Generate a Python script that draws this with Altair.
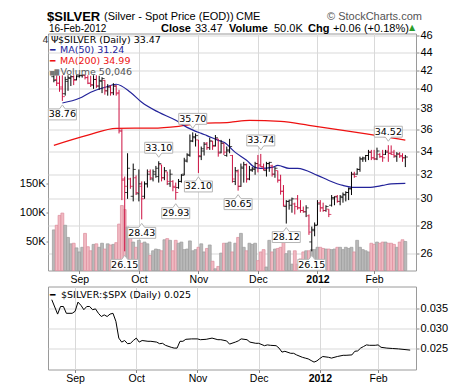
import altair as alt
import pandas as pd

# ---------------- data ----------------
opens = [41.3, 41.0, 40.6, 40.2, 39.5, 40.8, 41.1, 41.3, 41.0, 41.3,
         41.4, 41.45, 41.2, 40.6, 40.4, 41.0, 40.3, 40.8, 40.9, 39.8,
         40.2, 39.6, 40.3, 39.6, 35.8, 31.6, 30.5, 31.6, 30.2, 31.7,
         30.4, 31.0, 30.2, 31.2, 32.2, 31.6, 32.0, 31.8, 32.8, 31.7,
         32.2, 31.2, 31.4, 30.9, 30.9, 31.4, 32.0, 33.1, 33.6, 34.9,
         35.2, 35.0, 33.5, 34.0, 34.7, 34.3, 34.9, 34.5, 35.1, 33.9,
         34.7, 33.6, 34.0, 33.6, 31.4, 32.2, 31.0, 32.5, 32.8, 31.6,
         32.3, 32.4, 32.9, 32.8, 32.6, 32.3, 32.9, 32.7, 32.0, 32.3,
         31.5, 30.6, 29.4, 29.8, 29.5, 29.6, 30.0, 29.3, 29.1, 29.0,
         28.7, 26.8, 27.6, 28.0, 29.7, 29.3, 29.1, 29.2, 29.5, 30.0,
         30.2, 29.8, 30.1, 30.3, 30.5, 30.8, 32.0, 32.0, 32.4, 33.3,
         33.3, 33.6, 33.9, 33.4, 33.3, 33.7, 33.5, 33.7, 34.0, 33.8,
         33.9, 33.5, 33.7, 33.6, 33.4]
highs = [41.45, 41.45, 41.4, 41.45, 41.3, 41.45, 41.45, 41.45, 41.45, 41.5,
         41.5, 41.5, 41.45, 41.4, 41.45, 41.45, 41.4, 41.24, 40.95, 40.5,
         40.4, 40.6, 40.4, 39.9, 36.0, 31.8, 33.8, 31.7, 32.9, 31.9,
         32.4, 31.4, 31.4, 32.4, 32.4, 32.4, 32.7, 33.10, 32.8, 32.6,
         32.2, 32.4, 31.5, 31.3, 31.6, 32.0, 33.4, 33.8, 35.5, 35.70,
         35.6, 35.0, 34.4, 34.8, 34.8, 35.2, 34.9, 35.45, 35.1, 35.0,
         34.7, 34.4, 35.1, 33.65, 32.6, 32.4, 32.9, 33.05, 32.9, 32.7,
         32.6, 33.05, 33.65, 33.74, 32.9, 33.05, 33.05, 32.8, 32.6, 32.3,
         31.95, 31.1, 29.9, 29.93, 30.1, 29.7, 30.3, 29.9, 29.4, 29.5,
         28.8, 27.9, 28.2, 29.9, 29.9, 29.7, 29.5, 29.2, 30.3, 30.2,
         30.3, 30.3, 30.5, 30.6, 30.9, 32.2, 32.2, 32.5, 33.5, 33.5,
         33.65, 34.1, 34.1, 34.1, 34.3, 33.8, 34.1, 34.1, 34.52, 34.5,
         34.1, 33.9, 33.9, 33.8, 33.65]
lows = [40.7, 40.3, 39.7, 38.76, 39.3, 39.8, 40.3, 40.4, 40.9, 41.2,
        41.2, 41.0, 40.5, 40.2, 40.0, 40.1, 39.9, 39.56, 39.4, 39.3,
        39.3, 39.35, 39.3, 35.6, 29.9, 26.15, 30.0, 30.8, 29.8, 30.3,
        29.8, 28.43, 30.0, 30.9, 31.5, 31.4, 31.7, 31.3, 31.4, 31.5,
        31.1, 30.95, 30.6, 29.93, 30.8, 31.3, 31.9, 33.0, 33.5, 34.8,
        34.4, 32.10, 33.2, 33.6, 34.1, 34.1, 34.1, 34.4, 33.5, 33.8,
        33.65, 33.5, 33.8, 31.3, 31.1, 30.65, 30.95, 31.3, 31.3, 31.5,
        32.2, 31.95, 32.15, 32.6, 32.3, 31.8, 32.2, 31.8, 31.7, 31.3,
        30.33, 29.4, 28.12, 29.16, 28.93, 28.8, 29.16, 28.93, 28.93, 28.6,
        27.3, 26.15, 27.2, 28.0, 29.0, 29.0, 29.0, 28.6, 29.4, 29.5,
        29.7, 29.5, 29.7, 29.8, 29.9, 30.3, 31.7, 31.95, 32.2, 33.05,
        33.05, 33.2, 33.2, 33.2, 33.2, 33.4, 33.05, 33.65, 33.05, 33.65,
        33.4, 33.05, 33.4, 33.05, 32.6]
closes = [40.9, 40.6, 40.0, 39.2, 41.0, 41.2, 41.3, 40.9, 41.4, 41.45,
          41.48, 41.2, 40.6, 40.45, 41.0, 40.3, 40.9, 41.1, 39.8, 40.2,
          39.6, 40.3, 39.5, 35.9, 31.5, 31.0, 32.5, 31.0, 32.4, 30.5,
          31.2, 30.0, 31.2, 32.0, 31.7, 32.2, 32.5, 32.9, 31.7, 32.3,
          31.4, 32.0, 31.0, 30.5, 31.4, 31.9, 33.2, 33.7, 34.9, 35.3,
          35.4, 33.6, 34.2, 34.6, 34.3, 34.9, 34.4, 35.2, 33.8, 34.7,
          33.9, 34.1, 34.4, 31.6, 32.3, 31.0, 32.6, 32.8, 31.6, 32.4,
          32.5, 32.9, 32.7, 32.65, 32.4, 32.9, 33.0, 32.0, 32.5, 31.5,
          30.6, 29.5, 29.8, 29.9, 30.0, 29.4, 29.3, 29.1, 29.0, 29.3,
          27.5, 27.7, 28.0, 29.6, 29.3, 29.1, 29.4, 28.8, 30.1, 30.15,
          29.8, 30.2, 30.35, 30.5, 30.8, 32.0, 31.8, 32.4, 33.3, 33.4,
          33.6, 33.9, 33.4, 33.3, 34.0, 33.5, 33.4, 33.9, 33.8, 33.7,
          33.6, 33.75, 33.5, 33.41, 33.47]
volume_k = [70, 78, 95, 99, 78, 57, 46, 47, 39, 32,
            40, 64, 41, 34, 45, 46, 40, 47, 37, 46,
            44, 45, 48, 80, 112, 105, 75, 63, 49, 40,
            52, 47, 49, 46, 26, 34, 37, 36, 34, 53,
            55, 52, 34, 52, 47, 49, 36, 37, 51, 34,
            36, 40, 46, 32, 38, 44, 16, 3, 7, 30,
            47, 47, 49, 32, 47, 57, 64, 40, 34, 47,
            45, 47, 17, 32, 36, 6, 52, 32, 37, 38,
            40, 53, 29, 34, 11, 34, 11, 20, 32, 34,
            34, 36, 36, 40, 40, 38, 37, 37, 36, 37,
            40, 40, 36, 40, 38, 40, 32, 52, 40, 36,
            34, 32, 47, 45, 49, 47, 49, 49, 47, 47,
            45, 40, 49, 53, 50]

ma50_day = [3, 9, 13, 18, 22, 27, 31, 37, 43, 47, 52, 54, 58, 60, 64, 68, 71, 73,
            77, 79, 83, 86, 93, 97, 102, 106, 111, 116, 119, 124]
ma50_val = [38.55, 39.03, 39.65, 40.17, 40.49, 39.65, 38.62, 37.62, 36.84, 36.17,
            35.6, 35.4, 34.96, 34.78, 33.88, 33.18, 32.57, 32.49, 32.57, 32.74,
            32.49, 32.49, 31.90, 31.48, 31.07, 30.91, 30.91, 31.07, 31.2, 31.24]
ma200_day = [0, 12, 22, 35, 44, 52, 62, 69, 80, 90, 102, 113, 124]
ma200_val = [34.51, 35.44, 36.08, 36.1, 36.27, 36.55, 36.65, 36.84, 36.74, 36.36,
             35.89, 35.44, 34.99]

ratio_day = [1, 3, 4, 5, 6, 8, 9, 10, 11, 12, 13, 14, 15, 16, 17, 18, 19, 20, 21, 22,
             23, 24, 25, 26, 27, 28, 29, 30, 31, 32, 34, 35, 37, 38, 39, 40, 42, 43, 44, 45,
             46, 47, 49, 51, 52, 54, 56, 58, 59, 61, 62, 64, 65, 66, 68, 69, 71, 72, 74, 75,
             76, 78, 79, 80, 81, 83, 84, 85, 87, 88, 89, 90, 91, 92, 93, 94, 96, 97, 99, 101,
             102, 104, 105, 106, 107, 108, 109, 110, 112, 113, 114, 116, 118, 120, 124]
ratio_val = [0.0372, 0.0336, 0.0355, 0.0355, 0.0338, 0.0338, 0.0343, 0.0366, 0.0358, 0.0347,
             0.0355, 0.0355, 0.0347, 0.0349, 0.0338, 0.0330, 0.0334, 0.0330, 0.0336, 0.0338,
             0.0318, 0.0276, 0.0266, 0.0270, 0.0262, 0.0263, 0.0270, 0.0276, 0.0266, 0.0270,
             0.0268, 0.0268, 0.0266, 0.0262, 0.0263, 0.0258, 0.0253, 0.0251, 0.0251, 0.0268,
             0.0268, 0.0273, 0.0274, 0.0274, 0.0272, 0.0273, 0.0276, 0.0272, 0.0272, 0.0269,
             0.0261, 0.0266, 0.0269, 0.0274, 0.0272, 0.0266, 0.0263, 0.0263, 0.0257, 0.0259,
             0.0258, 0.0257, 0.0251, 0.0241, 0.0243, 0.0238, 0.0238, 0.0234, 0.0228, 0.0226,
             0.0224, 0.0220, 0.0216, 0.0219, 0.0225, 0.0230, 0.0228, 0.0226, 0.0230, 0.0233,
             0.0233, 0.0234, 0.0243, 0.0244, 0.0251, 0.0255, 0.0259, 0.0258, 0.0258, 0.0259,
             0.0253, 0.0251, 0.0250, 0.0249, 0.0246]

ann_day = [3, 25, 31, 37, 43, 49, 51, 65, 73, 82, 91, 118]
ann_price = [38.76, 26.15, 28.43, 33.10, 29.93, 35.70, 32.10, 30.65, 33.74, 28.12, 26.15, 34.52]
ann_side = ["below", "below", "below", "above", "below", "above", "below", "below",
            "above", "below", "below", "above"]

month_day = [9, 30, 51, 72, 93, 113]
month_label = ["Sep", "Oct", "Nov", "Dec", "2012", "Feb"]
price_ticks = [26, 28, 30, 32, 34, 36, 38, 40, 42, 44, 46]
vol_ticks = [50000, 100000, 150000]
ratio_ticks = [0.025, 0.030, 0.035]

# ---------------- tables ----------------
n = len(closes)
direction = ["up"] + ["up" if closes[k] > closes[k - 1] else "down" for k in range(1, n)]
bars = pd.DataFrame({
    "day": list(range(n)), "open": opens, "high": highs, "low": lows, "close": closes,
    "volume": [v * 1000 for v in volume_k], "dir": direction,
})
ma50 = pd.DataFrame({"day": ma50_day, "value": ma50_val})
ma200 = pd.DataFrame({"day": ma200_day, "value": ma200_val})
ratio = pd.DataFrame({"day": ratio_day, "value": ratio_val})
ann = pd.DataFrame({"day": ann_day, "price": ann_price, "side": ann_side,
                    "label": [f"{p:.2f}" for p in ann_price]})

# ---------------- style ----------------
RED = "#cc1040"
BLUE = "#23239a"
MA200C = "#ee1111"
GRID = "#d9d9d9"
AX_FONT = "Liberation Sans"
LEG_FONT = "DejaVu Sans"
W, H1, H2 = 368, 237, 83

xs = alt.Scale(domain=[-0.3, 126.0], nice=False, zero=False)
ps = alt.Scale(type="log", domain=[24.87, 46.24], nice=False, zero=False)
vs = alt.Scale(domain=[0, 408600], nice=False, zero=True)
rs = alt.Scale(domain=[0.01975, 0.0405], nice=False, zero=False)

label_expr = " : ".join(f"datum.value == {d} ? '{l}'" for d, l in zip(month_day, month_label)) + " : ''"
bold_expr = "datum.value == %d ? 'bold' : 'normal'" % month_day[month_label.index("2012")]

x_axis = alt.Axis(values=month_day, labelExpr=label_expr, grid=True, gridColor=GRID,
                  domain=False, ticks=True, tickSize=3, tickColor="#888",
                  labelFont=AX_FONT, labelFontSize=10.5, labelColor="#000",
                  labelPadding=1, title=None, labelFontWeight={"expr": bold_expr})
price_axis = alt.Axis(orient="right", values=price_ticks, format="d", grid=True,
                      gridColor=GRID, domain=False, tickSize=3, tickColor="#888",
                      labelPadding=1, labelFont=AX_FONT, labelFontSize=11,
                      labelColor="#000", title=None)
vol_axis = alt.Axis(orient="left", values=vol_ticks, labelExpr="(datum.value/1000) + 'K'",
                    grid=False, domain=False, tickSize=2, tickColor="#888", labelPadding=1,
                    labelFont=AX_FONT, labelFontSize=11, labelColor="#000", title=None)
ratio_axis = alt.Axis(orient="right", values=ratio_ticks, format=".3f", grid=True,
                      gridColor=GRID, domain=False, tickSize=3, tickColor="#888",
                      labelPadding=1, labelFont=AX_FONT, labelFontSize=11,
                      labelColor="#000", title=None)


def X():
    return alt.X("day:Q", scale=xs, axis=x_axis)


def PY(field):
    return alt.Y(f"{field}:Q", scale=ps, axis=price_axis)


up_black = alt.condition("datum.dir == 'up'", alt.value("#000000"), alt.value(RED))


def txt(s, x, y, size=11, weight="normal", color="#000", font=AX_FONT, align="left"):
    return alt.Chart(pd.DataFrame({"t": [s]})).mark_text(
        align=align, baseline="middle", fontSize=size, fontWeight=weight,
        color=color, font=font).encode(x=alt.value(x), y=alt.value(y), text="t:N")


# ---------------- top panel ----------------
volume = alt.Chart(bars).mark_bar(size=2.9, strokeWidth=0.7).encode(
    x=X(),
    y=alt.Y("volume:Q", scale=vs, axis=vol_axis),
    fill=alt.condition("datum.dir == 'up'", alt.value("#b9b9b9"), alt.value("#f1b9c2")),
    stroke=alt.condition("datum.dir == 'up'", alt.value("#9c9c9c"), alt.value("#dc8d9c")),
)

hl = alt.Chart(bars).mark_rule(strokeWidth=1).encode(x=X(), y=PY("low"), y2="high:Q", color=up_black)
op = alt.Chart(bars).mark_tick(orient="horizontal", size=2.5, thickness=1, xOffset=-1.3).encode(
    x=X(), y=PY("open"), color=up_black)
cl = alt.Chart(bars).mark_tick(orient="horizontal", size=2.5, thickness=1, xOffset=1.3).encode(
    x=X(), y=PY("close"), color=up_black)
l200 = alt.Chart(ma200).mark_line(color=MA200C, strokeWidth=1.2, interpolate="monotone").encode(
    x=X(), y=PY("value"))
l50 = alt.Chart(ma50).mark_line(color=BLUE, strokeWidth=1.2, interpolate="monotone").encode(
    x=X(), y=PY("value"))

PATH_BELOW = "M-1,-0.39L-0.21,-0.39L0,-0.68L0.21,-0.39L1,-0.39L1,0.39L-1,0.39Z"
PATH_ABOVE = "M-1,-0.39L1,-0.39L1,0.39L0.21,0.39L0,0.68L-0.21,0.39L-1,0.39Z"

box_b = alt.Chart(ann).transform_filter("datum.side == 'below'").mark_point(
    shape=PATH_BELOW, size=784, filled=True, color="white", stroke="#b5b5b5",
    strokeWidth=1, opacity=1, yOffset=13.5).encode(x=X(), y=PY("price"))
box_a = alt.Chart(ann).transform_filter("datum.side == 'above'").mark_point(
    shape=PATH_ABOVE, size=784, filled=True, color="white", stroke="#b5b5b5",
    strokeWidth=1, opacity=1, yOffset=-13.5).encode(x=X(), y=PY("price"))
txt_b = alt.Chart(ann).transform_filter("datum.side == 'below'").mark_text(
    font=LEG_FONT, fontSize=9.5, color="#000", dy=13.5, baseline="middle").encode(
    x=X(), y=PY("price"), text="label:N")
txt_a = alt.Chart(ann).transform_filter("datum.side == 'above'").mark_text(
    font=LEG_FONT, fontSize=9.5, color="#000", dy=-13.5, baseline="middle").encode(
    x=X(), y=PY("price"), text="label:N")

price_group = alt.layer(l200, l50, hl, op, cl, box_b, box_a, txt_b, txt_a)

L1, L2 = -17, -5
header = [
    txt("$SILVER", -1, L1, size=13, weight="bold"),
    txt("(Silver - Spot Price (EOD))", 56, L1, size=11),
    txt("CME", 188, L1, size=11),
    txt("\u00a9 StockCharts.com", 279, L1, size=11, color="#555"),
    txt("16-Feb-2012", 1, L2, size=10),
    txt("Close", 113, L2, weight="bold"),
    txt("33.47", 147, L2),
    txt("Volume", 181, L2, weight="bold"),
    txt("50.0K", 226, L2),
    txt("Chg", 260, L2, weight="bold"),
    txt("+0.06 (+0.18%)", 285, L2),
    txt("\u25b2", 361, L2 - 0.5, size=8, color="#2a9d2a", font=LEG_FONT),
    txt("4", -5.5, 6, size=9.5, color="#333", font=LEG_FONT),
    txt("\u03a8", 3, 6, size=9.5, color="#000", font=LEG_FONT),
    txt("$SILVER (Daily) 33.47", 10, 6, size=9.5, font=LEG_FONT),
    txt("\u2501", 2, 16.5, size=9, color=BLUE, font=LEG_FONT),
    txt("MA(50) 31.24", 12, 16.5, size=9.5, color=BLUE, font=LEG_FONT),
    txt("\u2501", 2, 27.5, size=9, color=MA200C, font=LEG_FONT),
    txt("MA(200) 34.99", 12, 27.5, size=9.5, color=MA200C, font=LEG_FONT),
    txt("\u2585\u2587", 2, 38, size=6, color="#777", font=LEG_FONT),
    txt("Volume 50,046", 12.5, 38, size=9.5, color="#555", font=LEG_FONT),
]

top = alt.layer(volume, price_group, *header).resolve_scale(y="independent").properties(
    width=W, height=H1)

# ---------------- bottom panel ----------------
rline = alt.Chart(ratio).mark_line(color="#000", strokeWidth=1).encode(
    x=X(), y=alt.Y("value:Q", scale=rs, axis=ratio_axis))
bottom = alt.layer(
    rline,
    txt("\u2501", 2, 8.5, size=9, color="#000", font=LEG_FONT),
    txt("$SILVER:$SPX (Daily) 0.025", 13, 8.5, size=9.5, font=LEG_FONT),
).properties(width=W, height=H2)

chart = alt.vconcat(top, bottom, spacing=0).properties(
    padding={"left": 10, "top": 1.5, "right": 0, "bottom": 0},
    background="white",
).configure_view(stroke="#9a9a9a", strokeWidth=1)

chart.save("out.html", embed_options={"renderer": "svg", "actions": False})
